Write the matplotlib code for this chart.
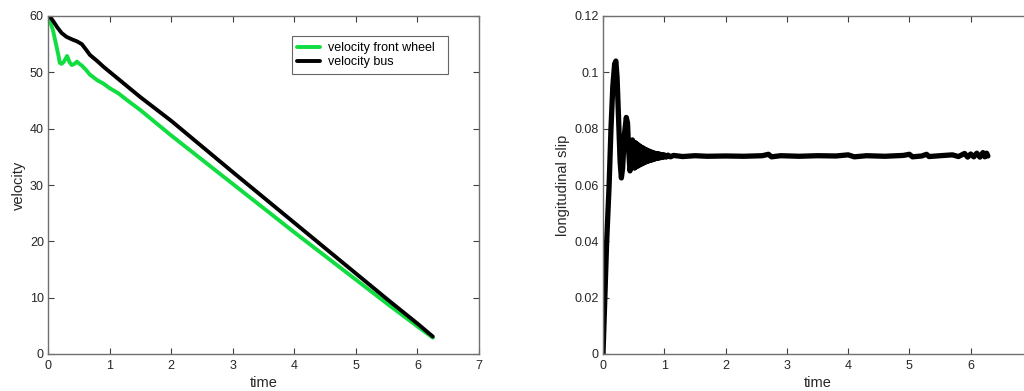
import matplotlib
matplotlib.use("Agg")
import matplotlib.pyplot as plt

plt.rcParams['font.family'] = ['Liberation Sans', 'DejaVu Sans']

# ---- data: velocity plot ----
wheel_t = [0.00, 0.02, 0.08, 0.13, 0.17, 0.19, 0.22, 0.26, 0.31, 0.35, 0.385, 0.43, 0.47, 0.51, 0.55,
           0.62, 0.68, 0.80, 0.90, 1.00, 1.14, 1.28, 1.5, 2.0, 3.0, 4.0, 5.0, 5.5, 6.0, 6.25]
wheel_v = [60.0, 59.5, 57.5, 55.0, 53.0, 51.7, 51.5, 51.9, 52.9, 51.8, 51.3, 51.5, 51.9, 51.5, 51.2,
           50.4, 49.6, 48.6, 48.0, 47.2, 46.3, 45.1, 43.3, 38.8, 30.2, 21.6, 13.2, 9.0, 4.9, 2.9]
bus_t = [0.00, 0.05, 0.09, 0.15, 0.22, 0.30, 0.40, 0.47, 0.55, 0.62, 0.68, 0.80, 0.90, 1.00,
         1.5, 2.0, 3.0, 4.0, 5.0, 5.5, 6.0, 6.25]
bus_v = [60.0, 59.6, 59.0, 58.0, 57.0, 56.3, 55.8, 55.5, 55.0, 54.0, 53.1, 52.0, 51.0, 50.1,
         45.6, 41.4, 32.3, 23.3, 14.3, 9.8, 5.4, 3.1]

# ---- data: longitudinal slip plot ----
slip_t = [0.00, 0.03, 0.06, 0.10, 0.13, 0.16, 0.19, 0.21, 0.23, 0.26,
          0.28, 0.30, 0.32, 0.35, 0.38, 0.40, 0.42, 0.44, 0.46, 0.48,
          0.50, 0.515, 0.53, 0.545, 0.56, 0.575, 0.59, 0.605, 0.62, 0.635,
          0.65, 0.665, 0.68, 0.695, 0.71, 0.725, 0.74, 0.755, 0.77, 0.785,
          0.80, 0.815, 0.83, 0.845, 0.86, 0.875, 0.89, 0.905, 0.92,
          0.94, 0.96, 0.98, 1.00, 1.03, 1.06, 1.10, 1.15,
          1.3, 1.5, 1.7, 2.0, 2.3, 2.6, 2.7, 2.75, 2.9, 3.2,
          3.5, 3.8, 4.0, 4.1, 4.3, 4.6, 4.9, 5.0, 5.05, 5.2,
          5.28, 5.32, 5.5, 5.7, 5.8, 5.9, 5.95, 6.0, 6.05, 6.1,
          6.15, 6.2, 6.23, 6.26, 6.28]
slip_v = [0.0, 0.020, 0.040, 0.060, 0.080, 0.095, 0.103, 0.104, 0.098, 0.080,
          0.068, 0.0625, 0.066, 0.078, 0.084, 0.082, 0.072, 0.065, 0.067, 0.076,
          0.0745, 0.0660, 0.0750, 0.0665, 0.0745, 0.0668, 0.0740, 0.0672, 0.0735, 0.0675,
          0.0732, 0.0678, 0.0728, 0.0681, 0.0725, 0.0684, 0.0722, 0.0686, 0.0719, 0.0688,
          0.0716, 0.0690, 0.0714, 0.0692, 0.0712, 0.0694, 0.0711, 0.0695, 0.0710,
          0.0697, 0.0708, 0.0698, 0.0707, 0.0699, 0.0706, 0.0700, 0.0705,
          0.0701, 0.0704, 0.0702, 0.0703, 0.0702, 0.0704, 0.0709, 0.0700, 0.0704, 0.0702,
          0.0704, 0.0703, 0.0707, 0.0700, 0.0704, 0.0702, 0.0705, 0.0709, 0.0700, 0.0703,
          0.0709, 0.0701, 0.0704, 0.0707, 0.0701, 0.0712, 0.0699, 0.0710, 0.0700, 0.0713,
          0.0699, 0.0715, 0.0700, 0.0713, 0.0703]

vel_yticks = [0, 10, 20, 30, 40, 50, 60]
slip_yticks = [0, 0.02, 0.04, 0.06, 0.08, 0.1, 0.12]
slip_yticklabels = ['0', '0.02', '0.04', '0.06', '0.08', '0.1', '0.12']
vel_time_ticks = [0, 1, 2, 3, 4, 5, 6, 7]
slip_time_ticks = [0, 1, 2, 3, 4, 5, 6]

fig = plt.figure(figsize=(10.24, 3.91), dpi=100)
fig.patch.set_facecolor('white')

W, H = 1024, 391
ax1 = fig.add_axes([48 / W, (391 - 354) / H, 431 / W, 338 / H])
ax2 = fig.add_axes([603 / W, (391 - 354) / H, 429 / W, 338 / H])

spine_col = '#707070'
txt_col = '#262626'
for ax in (ax1, ax2):
    for s in ax.spines.values():
        s.set_color(spine_col)
        s.set_linewidth(1.0)
    ax.tick_params(direction='in', length=4, width=0.8, color='#404040',
                   top=True, right=True, labelsize=9, labelcolor=txt_col)
    ax.tick_params(axis='x', pad=4)
    ax.tick_params(axis='y', pad=3)
    ax.set_xlim(0, 7)
    ax.set_xlabel('time', fontsize=10.5, color=txt_col, labelpad=3)

ax1.set_xticks(vel_time_ticks)
ax2.set_xticks(slip_time_ticks)

ax1.plot(wheel_t, wheel_v, color='#10dd40', lw=2.8, label='velocity front wheel',
         solid_capstyle='round', solid_joinstyle='round')
ax1.plot(bus_t, bus_v, color='black', lw=2.8, label='velocity bus',
         solid_capstyle='round', solid_joinstyle='round')
ax1.set_ylim(0, 60)
ax1.set_yticks(vel_yticks)
ax1.set_ylabel('velocity', fontsize=10.5, color=txt_col, labelpad=3)
leg = ax1.legend(loc='upper left', bbox_to_anchor=(0.565, 0.94), fontsize=9,
                 frameon=True, fancybox=False, handlelength=1.85, borderpad=0.45,
                 labelspacing=0.2, handletextpad=0.65, borderaxespad=0)
leg.get_frame().set_edgecolor('#404040')
leg.get_frame().set_linewidth(0.8)
# widen legend text a little to mimic original padding on the right
for t in leg.get_texts():
    t.set_text(t.get_text() + '  ')

ax2.plot(slip_t, slip_v, color='black', lw=3.8, solid_joinstyle='round', solid_capstyle='round')
ax2.set_ylim(0, 0.12)
ax2.set_yticks(slip_yticks)
ax2.set_yticklabels(slip_yticklabels)
ax2.set_ylabel('longitudinal slip', fontsize=10.5, color=txt_col, labelpad=3)

fig.savefig('out.png', dpi=100)
